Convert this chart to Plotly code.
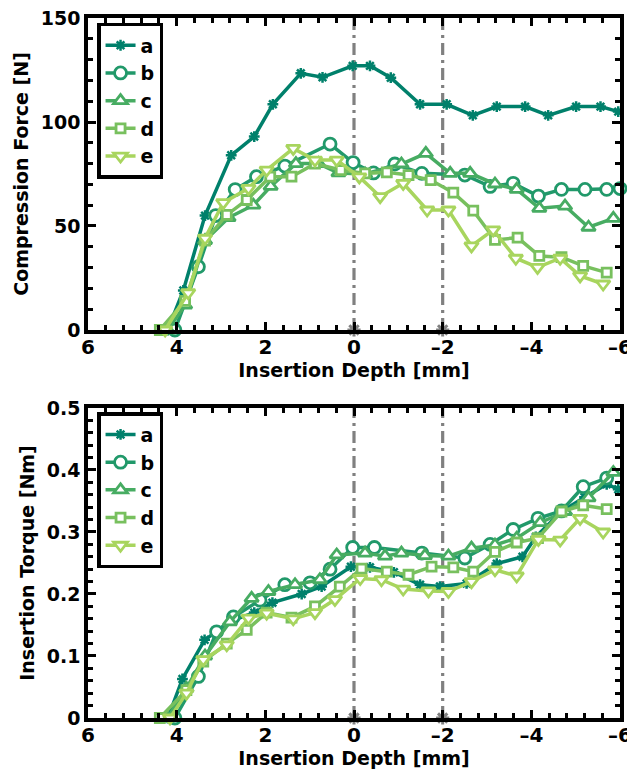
import plotly.graph_objects as go

# ---------------- data ----------------
series_names = ["a", "b", "c", "d", "e"]

# Top panel: compression force [N]
force_a_x = [4.2, 3.85, 3.36, 2.77, 2.25, 1.83, 1.2, 0.71, 0.03, -0.36, -0.83, -1.49, -2.09, -2.68, -3.22, -3.86, -4.38, -5.01, -5.56, -5.96]
force_a_y = [0, 19, 55, 84, 93, 108.5, 123.4, 121.5, 127, 127, 121.3, 108.5, 108.5, 103.2, 107.4, 107.4, 103.2, 107.4, 107.4, 105]
force_b_x = [4.04, 3.51, 3.12, 2.68, 2.20, 1.56, 0.54, 0.02, -0.44, -0.92, -1.53, -2.50, -3.07, -3.59, -4.16, -4.68, -5.21, -5.70, -6.0]
force_b_y = [0, 30.4, 55, 67.5, 73.7, 78.8, 89.4, 80.5, 75.5, 79.8, 75.3, 74.5, 69, 70.5, 64.4, 67.6, 67.6, 67.6, 68]
force_c_x = [4.2, 3.81, 3.36, 2.83, 2.27, 1.88, 1.31, 0.8, 0.35, -0.25, -1.07, -1.62, -2.17, -2.62, -3.18, -3.67, -4.18, -4.76, -5.29, -5.85]
force_c_y = [0, 12, 43, 54, 60, 69, 80, 80, 75.5, 75, 79.8, 84.9, 75.3, 75.3, 70.2, 67.6, 58.5, 59.6, 49.4, 53.7]
force_d_x = [4.38, 3.81, 3.36, 2.87, 2.42, 1.89, 1.41, 0.88, 0.30, -0.25, -0.74, -1.23, -1.73, -2.24, -2.69, -3.18, -3.69, -4.18, -4.68, -5.17, -5.70]
force_d_y = [0, 14, 43, 55.3, 62.5, 73.7, 73.7, 80, 76.9, 75.3, 75.8, 74.5, 72.1, 66, 57.4, 43.3, 44.4, 35.6, 35, 30.8, 27.6]
force_e_x = [4.26, 3.74, 3.36, 2.95, 2.38, 1.97, 1.37, 0.88, 0.39, -0.12, -0.59, -1.11, -1.65, -2.13, -2.65, -3.14, -3.65, -4.14, -4.65, -5.10, -5.62]
force_e_y = [0, 17.9, 44.1, 61.2, 68.1, 76.9, 87.3, 81.7, 81.7, 73.6, 64.1, 70.5, 57.7, 57.7, 40.4, 48.1, 34.5, 30.1, 34.5, 26, 22.1]

# Bottom panel: insertion torque [Nm]
torque_a_x = [4.2, 3.87, 3.37, 2.72, 2.25, 1.84, 1.18, 0.73, 0.07, -0.36, -0.9, -1.49, -1.94, -2.54, -3.22, -3.80, -4.1, -4.68, -5.2, -5.70, -5.96]
torque_a_y = [0, 0.063, 0.126, 0.158, 0.170, 0.186, 0.200, 0.212, 0.244, 0.243, 0.235, 0.215, 0.212, 0.217, 0.249, 0.260, 0.292, 0.333, 0.356, 0.377, 0.369]
torque_b_x = [4.04, 3.51, 3.10, 2.72, 2.12, 1.56, 0.99, 0.54, 0.03, -0.46, -1.53, -2.50, -3.07, -3.59, -4.15, -4.68, -5.17, -5.70]
torque_b_y = [0, 0.067, 0.139, 0.163, 0.190, 0.215, 0.218, 0.240, 0.275, 0.275, 0.266, 0.258, 0.280, 0.304, 0.322, 0.334, 0.373, 0.387]
torque_c_x = [4.2, 3.78, 3.36, 2.80, 2.31, 1.93, 1.33, 0.77, 0.39, -0.25, -0.70, -1.07, -1.6, -2.13, -2.65, -3.18, -3.67, -4.2, -4.76, -5.29, -5.85]
torque_c_y = [0, 0.048, 0.100, 0.155, 0.193, 0.204, 0.215, 0.223, 0.263, 0.266, 0.261, 0.266, 0.262, 0.261, 0.274, 0.279, 0.290, 0.315, 0.333, 0.355, 0.396]
torque_d_x = [4.38, 3.78, 3.40, 2.87, 2.42, 1.97, 1.41, 0.88, 0.32, -0.17, -0.74, -1.23, -1.75, -2.24, -2.69, -3.18, -3.67, -4.15, -4.68, -5.17, -5.70]
torque_d_y = [0, 0.045, 0.091, 0.120, 0.142, 0.170, 0.162, 0.180, 0.212, 0.241, 0.236, 0.231, 0.244, 0.243, 0.236, 0.268, 0.283, 0.290, 0.333, 0.343, 0.337]
torque_e_x = [4.15, 3.78, 3.40, 2.87, 2.38, 1.97, 1.37, 0.88, 0.43, -0.14, -0.62, -1.11, -1.68, -2.13, -2.65, -3.18, -3.67, -4.16, -4.65, -5.10, -5.62]
torque_e_y = [0, 0.040, 0.094, 0.118, 0.161, 0.169, 0.160, 0.170, 0.191, 0.225, 0.223, 0.208, 0.205, 0.204, 0.220, 0.239, 0.229, 0.288, 0.287, 0.322, 0.300]

# reference depths (vertical dash-dot lines)
ref_depths = [0, -2]
force_range = [0, 150]
torque_range = [0, 0.5]

x_tick_vals = [6, 4, 2, 0, -2, -4, -6]
x_tick_text = ["6", "4", "2", "0", "\u20132", "\u20134", "\u20136"]
force_tick_vals = [0, 50, 100, 150]
torque_tick_vals = [0, 0.1, 0.2, 0.3, 0.4, 0.5]

# ---------------- styling ----------------
colors = ["#00806b", "#21996a", "#47ac62", "#78c05e", "#a8d55e"]
symbols = ["asterisk-open", "circle", "triangle-up", "square", "triangle-down"]
msizes = [9, 12, 12, 9, 12]
FONT = dict(family="DejaVu Sans, Liberation Sans, sans-serif", size=19, color="black", weight="bold")
XTICKFONT = dict(FONT, size=20)
YTICKFONT = dict(FONT, size=19)

force = [(force_a_x, force_a_y), (force_b_x, force_b_y), (force_c_x, force_c_y),
         (force_d_x, force_d_y), (force_e_x, force_e_y)]
torque = [(torque_a_x, torque_a_y), (torque_b_x, torque_b_y), (torque_c_x, torque_c_y),
          (torque_d_x, torque_d_y), (torque_e_x, torque_e_y)]

fig = go.Figure()


def add_refs(xa, ya, yr):
    for d in ref_depths:
        fig.add_trace(go.Scatter(
            x=[d, d], y=yr, mode="lines", showlegend=False, hoverinfo="skip",
            line=dict(color="#808080", width=3.2, dash="12px,5px,3px,5px"),
            xaxis=xa, yaxis=ya))


def add_ref_markers(xa, ya, yr):
    fig.add_trace(go.Scatter(
        x=ref_depths, y=[yr[0]] * len(ref_depths), mode="markers", showlegend=False,
        hoverinfo="skip", cliponaxis=False,
        marker=dict(symbol="asterisk-open", size=11, color="#808080",
                    line=dict(color="#808080", width=3)),
        xaxis=xa, yaxis=ya))


def add_series(data, xa, ya, legend):
    for i, (xs, ys) in enumerate(data):
        if symbols[i] == "asterisk-open":
            marker = dict(symbol=symbols[i], size=msizes[i], color=colors[i],
                          line=dict(color=colors[i], width=2.5))
        else:
            marker = dict(symbol=symbols[i], size=msizes[i], color="white",
                          line=dict(color=colors[i], width=2.8))
        fig.add_trace(go.Scatter(
            x=xs, y=ys, mode="lines+markers", name=series_names[i],
            line=dict(color=colors[i], width=3.5), marker=marker,
            xaxis=xa, yaxis=ya, legend=legend, cliponaxis=False))


add_refs("x", "y", force_range)
add_series(force, "x", "y", "legend")
add_ref_markers("x", "y", force_range)
add_refs("x2", "y2", torque_range)
add_series(torque, "x2", "y2", "legend2")
add_ref_markers("x2", "y2", torque_range)

axis_common = dict(
    showline=True, linewidth=3.5, linecolor="black", mirror="ticks",
    ticks="inside", ticklen=8, tickwidth=3, tickcolor="black",
    showgrid=False, zeroline=False, automargin=False,
    ticklabeloverflow="allow",
)

xaxis_common = dict(axis_common, range=[6, -6], tickvals=x_tick_vals, ticktext=x_tick_text,
                    tickfont=XTICKFONT, ticklabelstandoff=-4,
                    minor=dict(ticks="inside", ticklen=5, tickwidth=2.5, tickcolor="black", dtick=0.4),
                    title=dict(text="Insertion Depth [mm]", font=FONT, standoff=0))

# The page body adds an 8 px offset, so the figure is made 8 px smaller
fig.update_layout(
    width=627, height=767,
    margin=dict(l=80, r=15, t=10, b=57),
    paper_bgcolor="white", plot_bgcolor="white",
    font=FONT,
    xaxis=dict(xaxis_common, domain=[0, 1], anchor="y"),
    xaxis2=dict(xaxis_common, domain=[0, 1], anchor="y2"),
    yaxis=dict(axis_common, domain=[0.5543, 1], range=force_range, tickvals=force_tick_vals,
               tickfont=YTICKFONT,
               minor=dict(ticks="inside", ticklen=5, tickwidth=2.5, tickcolor="black", dtick=10),
               title=dict(text="Compression Force [N]", font=FONT, standoff=8), anchor="x"),
    yaxis2=dict(axis_common, domain=[0, 0.4429], range=torque_range, tickvals=torque_tick_vals,
                tickfont=YTICKFONT,
                minor=dict(ticks="inside", ticklen=5, tickwidth=2.5, tickcolor="black", dtick=0.02),
                title=dict(text="Insertion Torque [Nm]", font=FONT, standoff=8), anchor="x2"),
    legend=dict(x=0.017, y=0.993, xanchor="left", yanchor="top",
                bordercolor="black", borderwidth=3.5, bgcolor="white",
                font=dict(FONT, size=19), itemwidth=30, tracegroupgap=0),
    legend2=dict(x=0.017, y=0.437, xanchor="left", yanchor="top",
                 bordercolor="black", borderwidth=3.5, bgcolor="white",
                 font=dict(FONT, size=19), itemwidth=30, tracegroupgap=0),
)

fig.write_html("out.html")
